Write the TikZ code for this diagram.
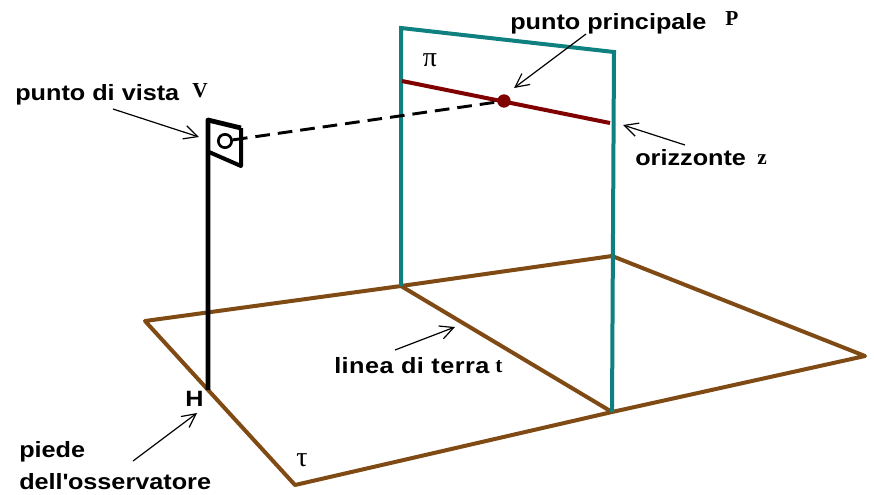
\documentclass[tikz,border=0pt]{standalone}
\usepackage{fontspec}
\setmainfont{Liberation Sans}
\newfontfamily\symbolfont{Liberation Serif}
\newfontfamily\labelfont[FakeStretch=1.14]{Liberation Sans}
\usetikzlibrary{arrows.meta,calc,positioning}
\definecolor{Ground}{HTML}{7F4A14}
\definecolor{Plane}{HTML}{0F8080}
\definecolor{Horizon}{HTML}{800000}
\tikzset{
  tag/.style={font=\fontsize{16.6}{24}\selectfont\labelfont\bfseries, inner sep=0pt, align=left, text=black},
  sym/.style={font=\fontsize{16}{18}\selectfont\symbolfont\bfseries, inner sep=0pt},
  greek/.style={font=\fontsize{21}{24}\selectfont\symbolfont, inner sep=0pt},
  ground/.style={line width=3pt, draw=Ground, line join=round},
  plane/.style={line width=3pt, draw=Plane, line join=miter},
  pointer/.style={-{Straight Barb[length=3.6mm,width=3.6mm]}, line width=0.9pt, draw=black}
}
\begin{document}
\begin{tikzpicture}[x=0.75pt,y=-0.75pt]
  \useasboundingbox (0,0) rectangle (874,494);
  % floor
  \coordinate (g0) at (145,321);
  \coordinate (g1) at (401,286);
  \coordinate (g2) at (612,256);
  \coordinate (g3) at (865,356);
  \coordinate (g4) at (612,412);
  \coordinate (g5) at (295,485);
  \draw[ground] (g0) -- (g1) -- (g2) -- (g3) -- (g4) -- (g5) -- cycle;
  \draw[ground] (g1) -- (g4);
  % picture plane
  \coordinate (p0) at (401,28);
  \coordinate (p1) at (614,52);
  \draw[plane] (g1) -- (p0) -- (p1) -- (g4);
  % horizon
  \coordinate (z0) at (402,81);
  \coordinate (z1) at (610,123);
  \draw[line width=3pt,draw=Horizon] (z0) -- (z1);
  \node[circle,fill=Horizon,minimum size=10pt,inner sep=0pt] (P) at (504,101) {};
  % observer
  \coordinate (H) at (208,390);
  \coordinate (f0) at (208,120);
  \coordinate (f1) at (241,128);
  \coordinate (f2) at (241,166);
  \coordinate (f3) at (209,152);
  \draw[line width=3.6pt,line join=round] (H) -- (f0) -- (f1);
  \draw[line width=3pt,line join=round] (f1) -- (f2) -- (f3);
  \node[circle,draw=black,line width=2pt,minimum size=10pt,inner sep=0pt] (V) at (225,141) {};
  \draw[line width=2.2pt,dash pattern=on 11pt off 6pt] (V) -- (P);
  % labels
  \node[tag,anchor=base west] (tv) at (15,100) {punto di vista};
  \node[sym,anchor=base west] (sv) at (192,97) {V};
  \node[tag,anchor=base west] (tp) at (510,29) {punto principale};
  \node[sym,anchor=base west] (sp) at (725,25) {P};
  \node[tag,anchor=base west] (tz) at (635,165) {orizzonte};
  \node[sym,anchor=base west] (sz) at (757,164) {z};
  \node[tag,anchor=base west] (tt) at (334,373) {\addfontfeature{LetterSpace=2.1}linea di terra};
  \node[sym,anchor=base west] (st) at (495,372) {t};
  \node[tag,anchor=base west] (tH) at (185,406) {H};
  \node[tag,anchor=base west,text width=220pt] (to) at (19,457) {piede\\dell\textquotesingle osservatore};
  \node[greek] (pi) at (430,60) {π};
  \node[greek] (tau) at (302,460) {τ};
  % pointers
  \coordinate (a0) at (113,109);
  \coordinate (a1) at (199,137);
  \draw[pointer] (a0) -- (a1);
  \coordinate (b0) at (586,34);
  \coordinate (b1) at (514,88);
  \draw[pointer] (b0) -- (b1);
  \coordinate (c0) at (685,145);
  \coordinate (c1) at (623,125);
  \draw[pointer] (c0) -- (c1);
  \coordinate (d0) at (395,350);
  \coordinate (d1) at (455,327);
  \draw[pointer] (d0) -- (d1);
  \coordinate (e0) at (133,461);
  \coordinate (e1) at (197,413);
  \draw[pointer] (e0) -- (e1);
\end{tikzpicture}
\end{document}
